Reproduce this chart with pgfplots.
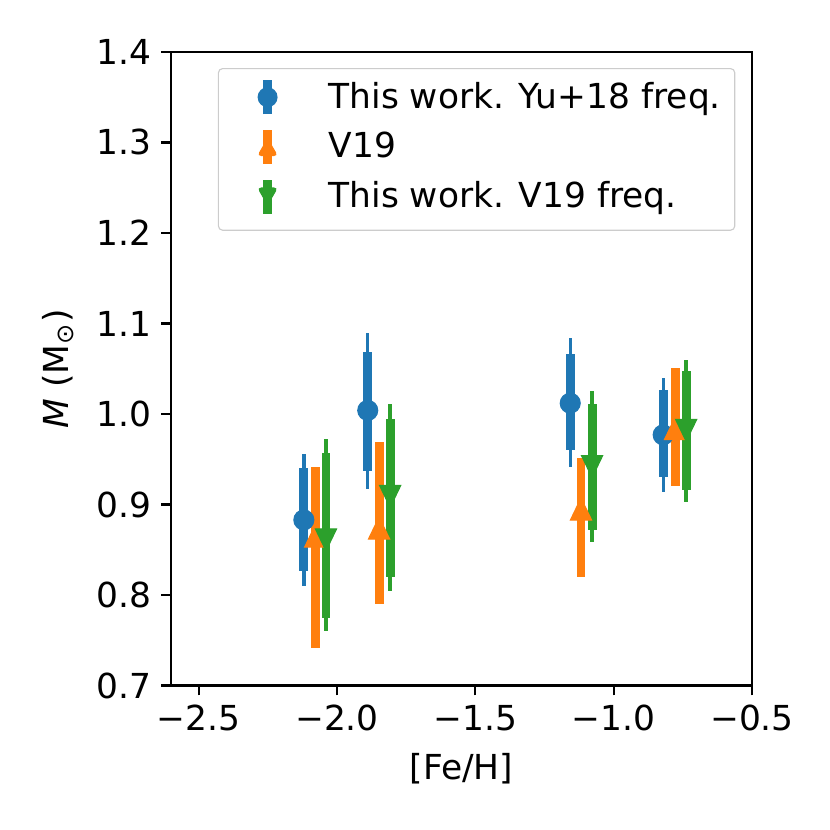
\documentclass[border=0pt]{standalone}
\usepackage{fontspec}
\setmainfont{DejaVu Sans}
\usepackage{pgfplots}
\usepackage{pgfplotstable}
\pgfplotsset{compat=1.18}
\definecolor{tblue}{HTML}{1F77B4}
\definecolor{torange}{HTML}{FF7F0E}
\definecolor{tgreen}{HTML}{2CA02C}

% x y ep em (thick) tp tm (thin)
\pgfplotstableread{
x y ep em tp tm
-2.120 0.883 0.057 0.056 0.073 0.073
-1.889 1.004 0.065 0.067 0.086 0.087
-1.157 1.012 0.054 0.052 0.072 0.070
-0.821 0.977 0.049 0.047 0.063 0.063
}\blue
\pgfplotstableread{
x y ep em
-2.079 0.861 0.080 0.120
-1.848 0.870 0.099 0.080
-1.118 0.891 0.060 0.071
-0.778 0.980 0.071 0.059
}\orange
\pgfplotstableread{
x y ep em tp tm
-2.040 0.865 0.092 0.090 0.107 0.105
-1.808 0.913 0.082 0.093 0.098 0.109
-1.078 0.946 0.065 0.074 0.079 0.087
-0.738 0.986 0.062 0.070 0.074 0.083
}\green

\tikzset{
  thinbar/.style={line width=1.2pt},
  thickbar/.style={line width=3.2pt},
}
\newcommand{\fs}{\fontsize{12.4}{14.8}\selectfont}

\begin{document}
\begin{tikzpicture}
\begin{axis}[
  scale only axis, width=209.2pt, height=228.2pt,
  xmin=-2.6, xmax=-0.5, ymin=0.7, ymax=1.4,
  xtick={-2.5,-2,-1.5,-1,-0.5},
  xticklabels={−2.5,−2.0,−1.5,−1.0,−0.5},
  ytick={0.7,0.8,0.9,1.0,1.1,1.2,1.3,1.4},
  yticklabels={0.7,0.8,0.9,1.0,1.1,1.2,1.3,1.4},
  tick align=outside, tick pos=left,
  major tick length=3.5pt,
  every tick/.style={line width=0.8pt, black},
  axis line style={line width=0.8pt},
  tick label style={font=\fs},
  label style={font=\fs},
  xlabel={[Fe/H]}, ylabel={\textit{M} (M\textsubscript{⊙})},
  xlabel style={yshift=-1pt},
  ylabel style={yshift=1.5pt},
  legend cell align=left,
  legend style={at={(1,1)}, anchor=north east, xshift=-6pt, yshift=-5.8pt,
    draw=black!20, rounded corners=1.5pt, fill=white,
    font=\fs, row sep=2.5pt, inner ysep=2.6pt},
  error bars/error mark=none,
]
% ---- blue
\addplot[forget plot, draw=none, mark=none, error bars/.cd, y dir=both, y explicit, error bar style={tblue, thinbar}]
  table[x=x, y=y, y error plus=tp, y error minus=tm]{\blue};
\addplot[forget plot, draw=none, mark=none, error bars/.cd, y dir=both, y explicit, error bar style={tblue, thickbar}]
  table[x=x, y=y, y error plus=ep, y error minus=em]{\blue};
\addplot[only marks, mark=*, mark size=3.6pt, color=tblue, mark options={draw=none, fill=tblue},
  legend image code/.code={
    \path[draw=none, fill=none] (0,0) -- (34.7pt,0);
    \draw[tblue, line width=3.2pt] (14.7pt,-6.1pt) -- (14.7pt,6.1pt);
    \fill[tblue, draw=none, fill opacity=1] (14.7pt,0) circle (3.6pt);
  }]
  table[x=x, y=y]{\blue};
\addlegendentry{This work. Yu+18 freq.}
% ---- orange
\addplot[forget plot, draw=none, mark=none, error bars/.cd, y dir=both, y explicit, error bar style={torange, thickbar}]
  table[x=x, y=y, y error plus=ep, y error minus=em]{\orange};
\addplot[only marks, mark=triangle*, mark size=4.4pt, color=torange, mark options={draw=none, fill=torange, yscale=1.2},
  legend image code/.code={
    \path[draw=none, fill=none] (0,0) -- (34.7pt,0);
    \draw[torange, line width=3.2pt] (14.7pt,-6.1pt) -- (14.7pt,6.1pt);
    \fill[torange, draw=none, fill opacity=1] (10.9pt,-3.3pt) -- (18.5pt,-3.3pt) -- (14.7pt,3.3pt) -- cycle;
  }]
  table[x=x, y=y]{\orange};
\addlegendentry{V19}
% ---- green
\addplot[forget plot, draw=none, mark=none, error bars/.cd, y dir=both, y explicit, error bar style={tgreen, thinbar}]
  table[x=x, y=y, y error plus=tp, y error minus=tm]{\green};
\addplot[forget plot, draw=none, mark=none, error bars/.cd, y dir=both, y explicit, error bar style={tgreen, thickbar}]
  table[x=x, y=y, y error plus=ep, y error minus=em]{\green};
\addplot[only marks, mark=triangle*, mark size=4.4pt, color=tgreen, mark options={draw=none, fill=tgreen, rotate=180, yscale=1.2},
  legend image code/.code={
    \path[draw=none, fill=none] (0,-9.5pt) -- (34.7pt,0);
    \draw[tgreen, line width=3.2pt] (14.7pt,-6.1pt) -- (14.7pt,6.1pt);
    \fill[tgreen, draw=none, fill opacity=1] (10.9pt,3.3pt) -- (18.5pt,3.3pt) -- (14.7pt,-3.3pt) -- cycle;
  }]
  table[x=x, y=y]{\green};
\addlegendentry{This work. V19 freq.}
\end{axis}
\pgfresetboundingbox
\path[use as bounding box] ([shift={(-61.6pt,-51.8pt)}]current axis.south west) rectangle ([shift={(28.1pt,18.7pt)}]current axis.north east);
\end{tikzpicture}
\end{document}
